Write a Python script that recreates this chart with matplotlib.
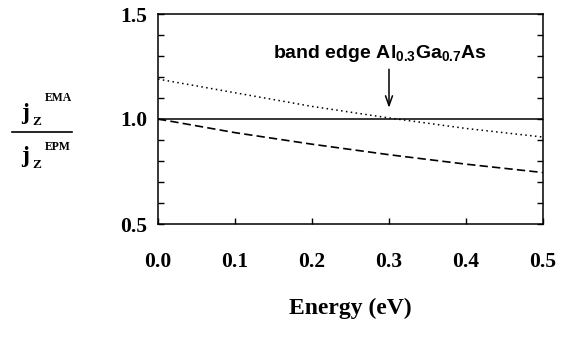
import matplotlib
matplotlib.use("Agg")
import matplotlib.pyplot as plt
from matplotlib.lines import Line2D
from matplotlib.ticker import MultipleLocator

# Data
energy = [0.0, 0.1, 0.2, 0.3, 0.4, 0.5]
ratio_solid = [1.0, 1.0, 1.0, 1.0, 1.0, 1.0]
ratio_dotted = [1.19, 1.125, 1.06, 1.005, 0.955, 0.914]
ratio_dashed = [1.0, 0.935, 0.88, 0.83, 0.785, 0.745]
xticks = [0.0, 0.1, 0.2, 0.3, 0.4, 0.5]
xticklabels = ["0.0", "0.1", "0.2", "0.3", "0.4", "0.5"]
yticks = [0.5, 1.0, 1.5]
yticklabels = ["0.5", "1.0", "1.5"]
band_edge = 0.3

plt.rcParams['mathtext.fontset'] = 'custom'
plt.rcParams['mathtext.rm'] = 'Liberation Sans:bold'
plt.rcParams['mathtext.bf'] = 'Liberation Sans:bold'
plt.rcParams['mathtext.default'] = 'rm'

W, H = 567, 339
fig = plt.figure(figsize=(W / 100, H / 100), dpi=100)
ax = fig.add_axes([158 / W, 1 - 224 / H, (543 - 158) / W, (224 - 14) / H])

ax.plot(energy, ratio_solid, color='black', lw=1.1, ls='-')
ax.plot(energy, ratio_dotted, color='black', lw=1.1, ls=(0, (1, 2.2)))
ax.plot(energy, ratio_dashed, color='black', lw=1.2, ls=(0, (5, 2.5)))

ax.set_xlim(0, 0.5)
ax.set_ylim(0.5, 1.5)
ax.set_xticks(xticks)
ax.set_xticklabels(xticklabels)
ax.set_yticks(yticks)
ax.set_yticklabels(yticklabels)
ax.yaxis.set_minor_locator(MultipleLocator(0.1))

serif = ['Liberation Serif', 'DejaVu Serif']
for lab in ax.get_xticklabels() + ax.get_yticklabels():
    lab.set_family(serif)
    lab.set_weight('bold')
    lab.set_fontsize(15.5)

ax.tick_params(axis='x', which='both', direction='in', length=4, width=1,
               pad=20, top=False, bottom=True)
ax.tick_params(axis='y', which='both', direction='in', length=4, width=1,
               pad=8, left=True, right=True)
for s in ax.spines.values():
    s.set_linewidth(1.1)

ax.set_xlabel("Energy (eV)", family=serif, weight='bold', fontsize=17, labelpad=19)

ax.annotate("", xy=(band_edge, 1.04), xytext=(band_edge, 1.25),
            arrowprops=dict(arrowstyle='->,head_length=0.7,head_width=0.25',
                            color='black', lw=1.1))
ax.text(0.4275, 1.29, "band edge Al$_{0.3}$Ga$_{0.7}$As", ha='right', va='baseline',
        family=['Liberation Sans', 'DejaVu Sans'], weight='bold', fontsize=14)

# y-axis label as a fraction
def ft(x, y, s, size, va='baseline'):
    fig.text(x / W, 1 - y / H, s, family=serif, weight='bold', fontsize=size,
             ha='left', va=va)

ft(21, 119, "j", 17)
ft(32, 125, "Z", 9.5)
ft(45, 101, "EMA", 8.5)
fig.add_artist(Line2D([12 / W, 72 / W], [1 - 132 / H, 1 - 132 / H],
                      color='black', lw=1.2, transform=fig.transFigure))
ft(21, 162, "j", 17)
ft(32, 168, "Z", 9.5)
ft(45, 150, "EPM", 8.5)

fig.savefig("out.png", dpi=100)
